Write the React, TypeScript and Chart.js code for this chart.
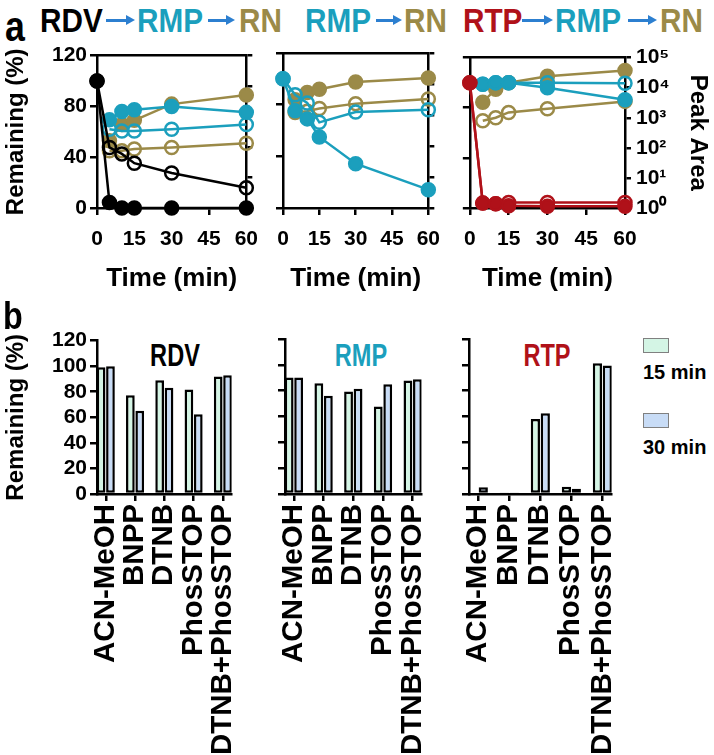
import React, { useEffect, useRef } from 'react';
import { Chart, registerables } from 'chart.js';

Chart.register(...registerables);

const FONT = '"Liberation Sans", Arial, Helvetica, sans-serif';
Chart.defaults.font.family = FONT;
Chart.defaults.color = '#000';

const CYAN = '#1b9fbd';
const GOLD = '#9b8a48';
const RED = '#b01119';
const ARROW = '#2c7fd0';
const GREEN_FILL = '#d4f5e5';
const BLUE_FILL = '#c8dcf6';

// ---------- panel a data ----------
const times = [0, 5, 10, 15, 30, 60];
const productTimes = [5, 10, 15, 30, 60];
const peakTicks = [1, 10, 100, 1000, 10000, 100000];
const superDigits = ['⁰', '¹', '²', '³', '⁴', '⁵'];

// RDV -> RMP -> RN (Remaining %)
const rdvFilled = [100, 4.4, 0, 0, 0, 0];
const rdvOpen = [100, 47.7, 42.6, 35.3, 27.6, 16];
const rmpFilledA = [69.4, 76, 77.4, 80, 75.3];
const rmpOpenA = [62, 60.6, 60.6, 62, 65.8];
const rnFilledA = [53, 65.8, 69, 81.8, 89];
const rnOpenA = [45, 45, 46.4, 47.7, 51];

// RMP -> RN
const rmpFilledB = [100, 75.3, 69, 55, 34.3, 14.2];
const rmpOpenB = [100, 87.7, 81.3, 66.3, 74.3, 76];
const rnFilledB = [83.9, 89.5, 92, 97.5, 100.6];
const rnOpenB = [74, 75, 77, 80.8, 84.4];

// RTP -> RMP -> RN
const rtpFilled = [100, 3.9, 3.4, 1.8, 1.3, 1.3];
const rtpOpen = [100, 3.9, 3.4, 4.4, 4.4, 4.4];
const rmpFilledC = [13000, 14500, 14500, 10000, 4000]; // peak area
const rmpOpenC = [13000, 14500, 14500, 14500, 14000];
const rnFilledC = [3300, 8900, 14500, 24000, 37000];
const rnOpenC = [800, 1000, 1500, 2000, 3500];

// ---------- panel b data ----------
const categories = ['ACN-MeOH', 'BNPP', 'DTNB', 'PhosSTOP', 'DTNB+PhosSTOP'];
const rdv15 = [99.2, 77.3, 88.9, 81.7, 92];
const rdv30 = [100, 65.2, 83.2, 62.4, 92.8];
const rmp15 = [90.2, 85.8, 79.4, 67.8, 87.9];
const rmp30 = [90.2, 76, 81.4, 85, 88.9];
const rtp15 = [1.0, 0.8, 58, 5.7, 101.3];
const rtp30 = [5.2, 0.8, 62.6, 4.1, 99.5];

const pts = (xs: number[], ys: number[]) => xs.map((x, i) => ({ x, y: ys[i] }));

function lineDs(label: string, xs: number[], ys: number[], color: string, filled: boolean, yAxisID = 'y') {
  return {
    label,
    data: pts(xs, ys),
    borderColor: color,
    backgroundColor: filled ? color : 'rgba(255,255,255,0)',
    pointBackgroundColor: filled ? color : 'rgba(255,255,255,0)',
    pointBorderColor: color,
    pointRadius: 6.5,
    pointBorderWidth: 2.5,
    borderWidth: 2.5,
    tension: 0,
    clip: false as any,
    yAxisID,
  };
}

const AX = { color: '#000', width: 2.5 };
const tickGrid = { drawOnChartArea: false, drawTicks: true, tickLength: 7, color: '#000', lineWidth: 2.5 };

function lineConfig(p: {
  datasets: any[];
  leftW: number;
  rightW: number;
  bottomH: number;
  leftLabels: boolean;
  rightLabels: boolean;
}) {
  return {
    type: 'line',
    data: { datasets: p.datasets },
    options: {
      animation: false,
      responsive: false,
      maintainAspectRatio: false,
      layout: { padding: 0, autoPadding: false },
      plugins: { legend: { display: false }, tooltip: { enabled: false } },
      scales: {
        x: {
          type: 'linear',
          position: 'bottom',
          min: 0,
          max: 60,
          grid: tickGrid,
          border: AX,
          ticks: { stepSize: 15, maxRotation: 0, padding: 12, color: '#000', font: { size: 21, weight: 'bold' } },
          title: { display: true, text: 'Time (min)', color: '#000', font: { size: 26, weight: 'bold' }, padding: { top: 0, bottom: 2 } },
          afterFit: (s: any) => { s.height = p.bottomH; },
        },
        xTop: {
          type: 'linear',
          position: 'top',
          min: 0,
          max: 60,
          grid: { drawOnChartArea: false, drawTicks: false },
          border: AX,
          ticks: { display: false },
          afterFit: (s: any) => { s.height = 13; },
        },
        y: {
          type: 'linear',
          position: 'left',
          min: 0,
          max: 120,
          grid: tickGrid,
          border: AX,
          ticks: { display: p.leftLabels, autoSkip: false, stepSize: 40, padding: 3, color: '#000', font: { size: 21, weight: 'bold' } },
          title: { display: p.leftLabels, text: 'Remaining (%)', color: '#000', font: { size: 24, weight: 'bold' }, padding: { top: 2, bottom: 0 } },
          afterFit: (s: any) => { s.width = p.leftW; },
        },
        y2: {
          type: 'logarithmic',
          position: 'right',
          min: 1,
          max: 100000,
          grid: { ...tickGrid, tickLength: 6 },
          border: AX,
          afterBuildTicks: (s: any) => { s.ticks = peakTicks.map((v) => ({ value: v })); },
          ticks: {
            display: p.rightLabels,
            autoSkip: false,
            padding: 5,
            color: '#000',
            font: { size: 21, weight: 'bold' },
            callback: (v: any) => '10' + superDigits[Math.round(Math.log10(Number(v)))],
          },
          title: { display: p.rightLabels, text: 'Peak Area', color: '#000', font: { size: 24, weight: 'bold' }, padding: { top: 2, bottom: 0 } },
          afterFit: (s: any) => { s.width = p.rightW; },
        },
      },
    },
  };
}

const catIdx = categories.map((_, i) => i);

function barConfig(p: { v15: number[]; v30: number[]; leftW: number; padRight: number; labels: boolean }) {
  const common = { borderColor: '#000', borderWidth: 2.5, borderSkipped: false, categoryPercentage: 0.64, barPercentage: 0.93 };
  return {
    type: 'bar',
    data: {
      datasets: [
        { label: '15 min', data: pts(catIdx, p.v15), backgroundColor: GREEN_FILL, ...common },
        { label: '30 min', data: pts(catIdx, p.v30), backgroundColor: BLUE_FILL, ...common },
      ],
    },
    options: {
      animation: false,
      responsive: false,
      maintainAspectRatio: false,
      layout: { padding: { top: 14, right: p.padRight, left: 0, bottom: 0 }, autoPadding: false },
      plugins: { legend: { display: false }, tooltip: { enabled: false } },
      scales: {
        x: {
          type: 'linear',
          offset: false,
          min: -0.3,
          max: 4.3,
          grid: { ...tickGrid, offset: false },
          border: AX,
          ticks: {
            stepSize: 1,
            includeBounds: false,
            autoSkip: false,
            minRotation: 90,
            maxRotation: 90,
            padding: 3,
            color: '#000',
            font: { size: 29.5, weight: 'bold' },
            callback: (v: any) => (Number.isInteger(v) ? categories[v] : ''),
          },
          afterFit: (s: any) => { s.height = 261; },
        },
        y: {
          type: 'linear',
          min: 0,
          max: 120,
          grid: tickGrid,
          border: AX,
          ticks: { display: p.labels, autoSkip: false, stepSize: 20, padding: 3, color: '#000', font: { size: 21, weight: 'bold' } },
          title: { display: p.labels, text: 'Remaining (%)', color: '#000', font: { size: 24, weight: 'bold' }, padding: { top: 2, bottom: 0 } },
          afterFit: (s: any) => { s.width = p.leftW; },
        },
      },
    },
  };
}

function CanvasChart({ left, top, width, height, make }: { left: number; top: number; width: number; height: number; make: () => any }) {
  const ref = useRef<HTMLCanvasElement | null>(null);
  useEffect(() => {
    if (!ref.current) return;
    const chart = new Chart(ref.current, make());
    return () => chart.destroy();
  }, []);
  return <canvas ref={ref} width={width} height={height} style={{ position: 'absolute', left, top, width, height }} />;
}

function Word({ text, left, color, top = 4, size = 33, sx = 0.9 }: { text: string; left: number; color: string; top?: number; size?: number; sx?: number }) {
  return (
    <span
      style={{
        position: 'absolute',
        left,
        top,
        fontSize: size,
        lineHeight: `${size}px`,
        color,
        whiteSpace: 'nowrap',
        transform: `scaleX(${sx})`,
        transformOrigin: 'left center',
      }}
    >
      {text}
    </span>
  );
}

function Arrow({ x1, x2, y }: { x1: number; x2: number; y: number }) {
  return (
    <div style={{ position: 'absolute', left: x1, top: y - 5, width: x2 - x1, height: 10 }}>
      <div style={{ position: 'absolute', left: 0, top: 4, width: x2 - x1 - 7, height: 2.5, background: ARROW }} />
      <div
        style={{
          position: 'absolute',
          right: 0,
          top: 0,
          width: 0,
          height: 0,
          borderTop: '5px solid transparent',
          borderBottom: '5px solid transparent',
          borderLeft: `9px solid ${ARROW}`,
        }}
      />
    </div>
  );
}

function Title({ text, cx, color }: { text: string; cx: number; color: string }) {
  return (
    <div
      style={{
        position: 'absolute',
        left: cx - 60,
        top: 340,
        width: 120,
        textAlign: 'center',
        fontSize: 31,
        lineHeight: '31px',
        color,
        transform: 'scaleX(0.76)',
        transformOrigin: 'center',
      }}
    >
      {text}
    </div>
  );
}

export default function App() {
  const H = 256;
  return (
    <div
      style={{
        position: 'absolute',
        left: 0,
        top: 0,
        width: 714,
        height: 755,
        background: '#fff',
        fontFamily: FONT,
        fontWeight: 'bold',
        overflow: 'hidden',
      }}
    >
      {/* header a */}
      <Word text="a" left={5} top={6} size={42} color="#000" sx={0.85} />
      <Word text="RDV" left={40} color="#000" />
      <Arrow x1={106} x2={135} y={20} />
      <Word text="RMP" left={137} color={CYAN} />
      <Arrow x1={208} x2={235} y={20} />
      <Word text="RN" left={239} color={GOLD} />
      <Word text="RMP" left={305} color={CYAN} />
      <Arrow x1={376} x2={402} y={20} />
      <Word text="RN" left={404} color={GOLD} />
      <Word text="RTP" left={463} color={RED} />
      <Arrow x1={522} x2={553} y={20} />
      <Word text="RMP" left={555} color={CYAN} />
      <Arrow x1={628} x2={657} y={20} />
      <Word text="RN" left={660} color={GOLD} />

      <CanvasChart
        left={0}
        top={40}
        width={270}
        height={H}
        make={() =>
          lineConfig({
            datasets: [
              lineDs('RDV', times, rdvFilled, '#000', true),
              lineDs('RDV open', times, rdvOpen, '#000', false),
              lineDs('RMP', productTimes, rmpFilledA, CYAN, true),
              lineDs('RMP open', productTimes, rmpOpenA, CYAN, false),
              lineDs('RN', productTimes, rnFilledA, GOLD, true),
              lineDs('RN open', productTimes, rnOpenA, GOLD, false),
            ],
            leftW: 97,
            rightW: 19,
            bottomH: H - 168,
            leftLabels: true,
            rightLabels: false,
          })
        }
      />
      <CanvasChart
        left={262}
        top={40}
        width={190}
        height={H}
        make={() =>
          lineConfig({
            datasets: [
              lineDs('RMP', times, rmpFilledB, CYAN, true),
              lineDs('RMP open', times, rmpOpenB, CYAN, false),
              lineDs('RN', productTimes, rnFilledB, GOLD, true),
              lineDs('RN open', productTimes, rnOpenB, GOLD, false),
            ],
            leftW: 21,
            rightW: 14,
            bottomH: H - 168,
            leftLabels: false,
            rightLabels: false,
          })
        }
      />
      <CanvasChart
        left={452}
        top={40}
        width={262}
        height={H}
        make={() =>
          lineConfig({
            datasets: [
              lineDs('RTP', times, rtpFilled, RED, true),
              lineDs('RTP open', times, rtpOpen, RED, false),
              lineDs('RMP', productTimes, rmpFilledC, CYAN, true, 'y2'),
              lineDs('RMP open', productTimes, rmpOpenC, CYAN, false, 'y2'),
              lineDs('RN', productTimes, rnFilledC, GOLD, true, 'y2'),
              lineDs('RN open', productTimes, rnOpenC, GOLD, false, 'y2'),
            ],
            leftW: 17,
            rightW: 89,
            bottomH: H - 168,
            leftLabels: false,
            rightLabels: true,
          })
        }
      />

      {/* panel b */}
      <Word text="b" left={3} top={297} size={38} color="#000" sx={0.85} />
      <Title text="RDV" cx={175} color="#000" />
      <Title text="RMP" cx={361} color={CYAN} />
      <Title text="RTP" cx={547} color={RED} />

      <CanvasChart left={0} top={325} width={262} height={430} make={() => barConfig({ v15: rdv15, v30: rdv30, leftW: 97, padRight: 11, labels: true })} />
      <CanvasChart left={262} top={325} width={190} height={430} make={() => barConfig({ v15: rmp15, v30: rmp30, leftW: 23, padRight: 14, labels: false })} />
      <CanvasChart left={452} top={325} width={190} height={430} make={() => barConfig({ v15: rtp15, v30: rtp30, leftW: 17, padRight: 19, labels: false })} />

      {/* legend */}
      <div style={{ position: 'absolute', left: 643, top: 338, width: 26, height: 15, background: GREEN_FILL, border: '1.5px solid #808080', boxSizing: 'border-box' }} />
      <div style={{ position: 'absolute', left: 643, top: 362, fontSize: 20, lineHeight: '20px', color: '#000', whiteSpace: 'nowrap' }}>15 min</div>
      <div style={{ position: 'absolute', left: 643, top: 413, width: 26, height: 15, background: BLUE_FILL, border: '1.5px solid #808080', boxSizing: 'border-box' }} />
      <div style={{ position: 'absolute', left: 643, top: 437, fontSize: 20, lineHeight: '20px', color: '#000', whiteSpace: 'nowrap' }}>30 min</div>
    </div>
  );
}
